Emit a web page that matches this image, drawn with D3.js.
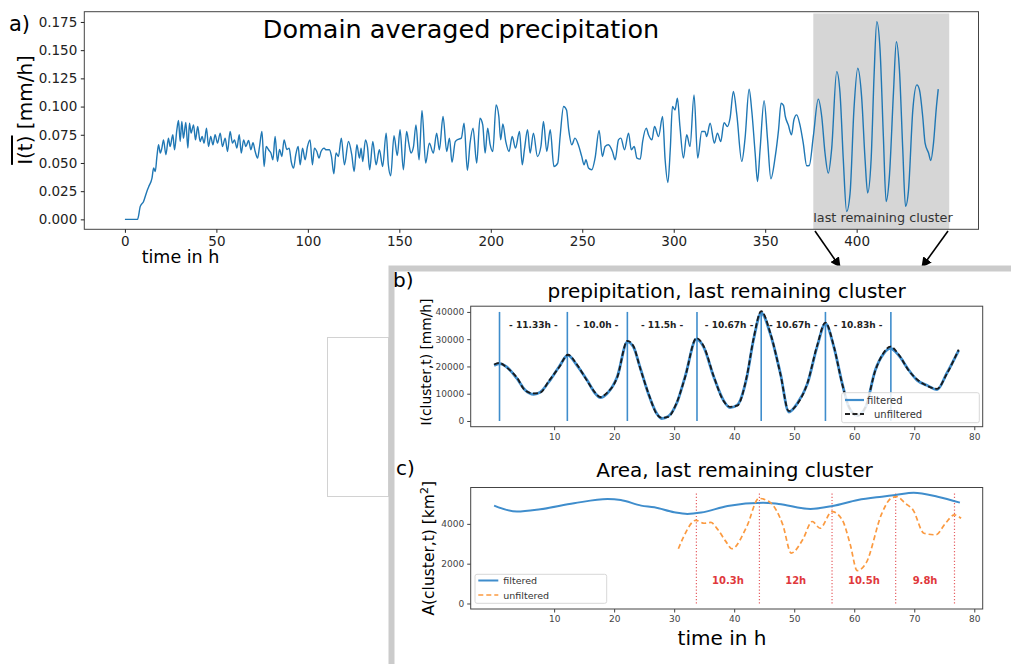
<!DOCTYPE html>
<html>
<head>
<meta charset="utf-8">
<script src="https://cdn.jsdelivr.net/npm/d3@7"></script>
<style>
body { margin: 0; background: #fff; }
svg { display: block; font-family: "DejaVu Sans", sans-serif; }
</style>
</head>
<body>
<script>
// panel a: domain averaged precipitation
const aTime = [0, 6.9, 8.4, 10.2, 12.0, 13.0, 14.8, 15.7, 16.6, 17.5, 18.4, 19.3, 20.2, 21.1, 22.4, 23.8, 24.7, 26.2, 27.1, 28.4,
  29.3, 30.2, 31.1, 32.0, 33.3, 34.4, 35.3, 36.2, 37.5, 38.6, 39.8, 41.1, 42.2, 43.3, 44.6, 45.7, 46.9, 48.1, 49.3, 50.6,
  52.1, 53.3, 54.8, 56.1, 57.5, 58.8, 59.9, 61.2, 62.5, 63.6, 64.9, 66.1, 67.6, 68.9, 70.0, 71.2, 72.5, 73.6, 74.9, 76.1,
  77.2, 78.5, 79.8, 80.9, 82.1, 83.4, 84.5, 85.8, 87.0, 88.5, 89.8, 90.9, 92.2, 93.4, 94.7, 95.8, 97.1, 98.5, 99.8, 101.2,
  102.5, 103.6, 104.9, 106.1, 107.2, 108.9, 109.8, 111.8, 112.9, 114.2, 115.4, 116.7, 118.3, 120.0, 122.2, 124.0, 125.3, 126.8, 128.2, 129.1,
  130.0, 131.5, 132.6, 133.8, 135.5, 137.3, 139.1, 140.9, 142.8, 144.0, 145.3, 147.1, 148.9, 150.4, 152.2, 154.0, 155.1, 156.4, 157.7, 159.1,
  160.8, 162.4, 164.4, 166.4, 168.6, 170.4, 171.9, 173.9, 175.9, 177.4, 178.8, 180.6, 182.5, 183.9, 185.4, 187.2, 188.7, 190.3, 192.3, 194.1,
  195.6, 196.9, 198.3, 199.6, 201.1, 202.9, 204.4, 205.4, 206.6, 208.2, 210.0, 211.7, 213.5, 215.7, 217.2, 218.4, 220.1, 221.5, 223.3, 225.5,
  227.4, 228.8, 230.6, 232.5, 234.5, 236.6, 237.9, 239.8, 241.4, 242.6, 244.3, 246.0, 247.9, 249.7, 251.0, 252.0, 253.4, 255.2, 257.0, 259.2,
  261.0, 262.5, 264.3, 266.5, 268.0, 269.8, 271.1, 273.1, 275.3, 276.8, 278.4, 279.9, 281.7, 283.0, 285.0, 286.2, 288.1, 289.5, 291.7, 293.9,
  295.3, 296.8, 298.1, 299.3, 300.7, 302.0, 303.4, 305.3, 307.1, 308.9, 311.1, 313.1, 315.3, 317.1, 318.0, 319.9, 322.2, 323.9, 325.7, 327.5,
  329.4, 330.8, 332.6, 334.5, 337.2, 339.0, 341.2, 342.7, 344.5, 345.8, 347.2, 349.4, 351.3, 353.1, 355.5, 357.3, 358.7, 360.0, 361.0, 362.6,
  364.4, 365.7, 367.2, 369.0, 370.8, 372.7, 374.1, 376.3, 379.0, 380.9, 382.7, 384.5, 386.3, 389.1, 390.9, 392.7, 394.5, 396.4, 398.5, 400.6,
  402.7, 404.6, 406.0, 407.9, 409.5, 411.0, 412.8, 414.6, 416.1, 417.9, 420.1, 421.7, 423.4, 425.2, 426.7, 428.3, 430.7, 432.9, 434.3, 436.1,
  437.4, 439.3, 440.5, 442.0, 443.5, 444.6];
const aPrecip = [0, 0, 0.0115, 0.0159, 0.0248, 0.029, 0.0366, 0.0455, 0.0425, 0.0558, 0.0661, 0.0588, 0.0632, 0.0705, 0.0573, 0.072, 0.0646, 0.075, 0.0617, 0.0794,
  0.0876, 0.069, 0.0867, 0.072, 0.0859, 0.0632, 0.0853, 0.0765, 0.0838, 0.0705, 0.0823, 0.069, 0.0735, 0.0676, 0.0809, 0.0646, 0.0735, 0.0661, 0.075, 0.0676,
  0.0765, 0.0646, 0.072, 0.0602, 0.0779, 0.0676, 0.0705, 0.0632, 0.075, 0.0588, 0.0705, 0.0646, 0.0699, 0.0617, 0.068, 0.0602, 0.0543, 0.0646, 0.0779, 0.0469,
  0.0646, 0.0617, 0.0588, 0.0528, 0.0735, 0.0513, 0.062, 0.0558, 0.0705, 0.062, 0.0632, 0.0513, 0.0455, 0.0573, 0.0646, 0.0484, 0.0632, 0.0528, 0.0646, 0.0705,
  0.0484, 0.0632, 0.0602, 0.0543, 0.0602, 0.0632, 0.0617, 0.0617, 0.0558, 0.0404, 0.0588, 0.0558, 0.072, 0.0484, 0.069, 0.0573, 0.0425, 0.0661, 0.0543, 0.0632,
  0.0513, 0.0705, 0.064, 0.044, 0.069, 0.0484, 0.0617, 0.0469, 0.0765, 0.0484, 0.0387, 0.0741, 0.0565, 0.0794, 0.044, 0.0779, 0.068, 0.0588, 0.064, 0.0838,
  0.0528, 0.0965, 0.0499, 0.0676, 0.0588, 0.0765, 0.0617, 0.0912, 0.0602, 0.072, 0.0505, 0.069, 0.0712, 0.072, 0.0853, 0.0434, 0.068, 0.0809, 0.0499, 0.0897,
  0.0838, 0.0588, 0.0809, 0.0667, 0.0602, 0.1015, 0.0912, 0.0705, 0.0846, 0.069, 0.0602, 0.0735, 0.0632, 0.0779, 0.0484, 0.062, 0.0794, 0.0588, 0.0765, 0.0558,
  0.0646, 0.0867, 0.0602, 0.0794, 0.0469, 0.0499, 0.0735, 0.1, 0.097, 0.0794, 0.0661, 0.072, 0.066, 0.0558, 0.0484, 0.0528, 0.0455, 0.044, 0.0543, 0.0788,
  0.0558, 0.0647, 0.0661, 0.0602, 0.0528, 0.0705, 0.072, 0.0617, 0.0765, 0.0617, 0.0646, 0.0543, 0.0534, 0.069, 0.0809, 0.075, 0.0705, 0.0823, 0.0735, 0.0912,
  0.0528, 0.0327, 0.0617, 0.1, 0.097, 0.1074, 0.0823, 0.0543, 0.075, 0.0646, 0.1104, 0.0543, 0.0779, 0.0779, 0.0735, 0.0853, 0.0676, 0.0765, 0.069, 0.0858,
  0.0823, 0.0897, 0.1133, 0.0926, 0.0514, 0.072, 0.1154, 0.0956, 0.0588, 0.0336, 0.0617, 0.1053, 0.0705, 0.036, 0.0558, 0.0794, 0.103, 0.101, 0.0912, 0.0838,
  0.075, 0.0883, 0.0926, 0.0838, 0.0676, 0.0475, 0.0478, 0.0735, 0.1066, 0.0912, 0.0588, 0.041, 0.0619, 0.131, 0.112, 0.0528, 0.007, 0.0232, 0.0971, 0.134,
  0.1088, 0.0528, 0.0234, 0.0528, 0.1266, 0.1753, 0.150, 0.0735, 0.0159, 0.0383, 0.1119, 0.1575, 0.132, 0.0619, 0.0115, 0.0252, 0.0971, 0.1192, 0.115, 0.0912,
  0.0676, 0.0588, 0.0522, 0.0676, 0.098, 0.1154];
const aTicksX = [0, 50, 100, 150, 200, 250, 300, 350, 400];
const aTicksY = [0, 0.025, 0.05, 0.075, 0.1, 0.125, 0.15, 0.175];
const clusterSpan = [376.3, 450.6];

// panel b: precipitation of the last cluster
const bTime = [0, 0.9, 2.1, 3.8, 5.2, 6.6, 7.7, 9.1, 10.8, 12.3, 13.8, 15.5, 16.9, 17.7, 18.8, 20.5, 22.2, 23.2, 24.3, 25.7,
  27.1, 27.9, 29.0, 30.4, 31.8, 33.7, 34.9, 36.6, 38.2, 39.3, 40.5, 42.1, 43.2, 44.5, 46.0, 47.7, 49.1, 50.5, 52.2, 53.8,
  55.2, 56.6, 58.0, 59.1, 60.5, 61.9, 63.5, 64.9, 66.0, 67.4, 69.1, 70.5, 72.1, 73.8, 75.4, 77.4];
const bFiltered = [20400, 21000, 19800, 15600, 11300, 9800, 10600, 14300, 19800, 24100, 20400, 14900, 10000, 8600, 10000, 16100, 29000, 27200, 19800, 10000,
  2700, 900, 1700, 6400, 16100, 30000, 27200, 16100, 7600, 4900, 5800, 16100, 29600, 39600, 32100, 17400, 3300, 6400, 13700, 27200,
  35700, 27200, 13700, 5100, 2100, 5100, 18600, 24700, 26600, 24100, 18600, 14900, 13100, 11500, 17400, 25900];
const bUnfiltered = [20700, 21300, 19600, 15900, 11100, 10100, 10400, 14600, 19600, 24300, 20700, 14700, 10200, 8800, 10300, 15900, 29400, 27500, 19600, 10200,
  2500, 1200, 1500, 6600, 15900, 30400, 27500, 16300, 7400, 5200, 5600, 16400, 29900, 40300, 32400, 17200, 3600, 6200, 13900, 27500,
  36100, 27400, 13500, 5300, 1900, 5300, 18400, 25000, 27300, 24400, 18400, 15200, 12900, 11800, 17200, 26200];
const bPeaks = [0.9, 12.2, 22.2, 33.8, 44.5, 55.2, 66.1];
const bPeriods = ["- 11.33h -", "- 10.0h -", "- 11.5h -", "- 10.67h -", "- 10.67h -", "- 10.83h -"];
const bTicksY = [0, 10000, 20000, 30000, 40000];
const clusterTicksX = [10, 20, 30, 40, 50, 60, 70, 80];

// panel c: area of the last cluster
const cTime = [0, 3.8, 7.7, 13.3, 18.9, 21.1, 24.5, 26.7, 30.0, 32.2, 34.5, 38.9, 44.8, 47.4, 52.7, 56.4, 60.6, 64.6, 66.9, 69.9, 73.9, 77.6];
const cFiltered = [4917, 4617, 4733, 5033, 5250, 5200, 4917, 4833, 4583, 4500, 4567, 4900, 5067, 5000, 4750, 4900, 5200, 5367, 5450, 5567, 5367, 5067];
const cuTime = [30.7, 31.6, 33.6, 35.0, 36.1, 37.3, 38.6, 39.6, 42.1, 44.1, 45.8, 48.1, 49.5, 51.4, 53.0, 54.3, 56.3, 58.0, 59.3, 60.5,
  62.0, 64.6, 66.1, 67.1, 68.5, 69.8, 71.6, 73.6, 75.2, 76.7, 77.8];
const cUnfiltered = [2750, 3370, 4180, 4030, 4070, 3700, 3120, 2750, 3870, 5280, 5120, 3950, 2530, 3200, 4120, 3780, 4620, 4200, 3000, 1650,
  2050, 4530, 5280, 5370, 5030, 4700, 3530, 3450, 4030, 4450, 4280];
const cPeaks = [33.7, 44.2, 56.3, 66.9, 76.7];
const cPeriods = ["10.3h", "12h", "10.5h", "9.8h"];
const cTicksY = [0, 2000, 4000];

const W = 1011, H = 664;
const blue = "#1f77b4", lblue = "#3f8dcc", orange = "#fb9a40", red = "#e0383c";

const svg = d3.select("body").append("svg")
    .attr("width", W)
    .attr("height", H);

svg.append("defs").append("marker")
    .attr("id", "head")
    .attr("viewBox", "0 0 10 10")
    .attr("refX", 9).attr("refY", 5)
    .attr("markerWidth", 6.5).attr("markerHeight", 6.5)
    .attr("markerUnits", "strokeWidth")
    .attr("orient", "auto")
    .append("path").attr("d", "M0,0L10,5L0,10z").attr("fill", "#000");

// style an axis group
function styleAxis(g, size, color) {
    g.select(".domain").remove();
    g.selectAll(".tick line").attr("stroke", color);
    g.selectAll(".tick text").attr("fill", color).style("font-size", size + "px").style("font-family", "DejaVu Sans");
}

function frame(x, y) {
    svg.append("rect")
        .attr("x", x.range()[0]).attr("y", y.range()[1])
        .attr("width", x.range()[1] - x.range()[0])
        .attr("height", y.range()[0] - y.range()[1])
        .attr("fill", "none").attr("stroke", "#444").attr("stroke-width", 1);
}

// ---------------- panel a ----------------
const ax = d3.scaleLinear().domain([-22.2, 466.6]).range([84.3, 978.5]);
const ay = d3.scaleLinear().domain([-0.0088, 0.1841]).range([229.3, 11.7]);

svg.append("rect")
    .attr("x", ax(clusterSpan[0])).attr("y", 13.5)
    .attr("width", ax(clusterSpan[1]) - ax(clusterSpan[0]))
    .attr("height", ay.range()[0] - 13.5)
    .attr("fill", "#d6d6d6");

svg.append("path")
    .datum(aTime.map((t, i) => [t, aPrecip[i]]))
    .attr("fill", "none").attr("stroke", blue).attr("stroke-width", 1.4)
    .attr("d", d3.line().x(d => ax(d[0])).y(d => ay(d[1])).curve(d3.curveMonotoneX));

frame(ax, ay);

svg.append("g").attr("transform", `translate(0,${ay.range()[0]})`)
    .call(d3.axisBottom(ax).tickValues(aTicksX).tickSize(3.5).tickPadding(3.5))
    .call(g => styleAxis(g, 13.5, "#222"));
svg.append("g").attr("transform", `translate(${ax.range()[0]},0)`)
    .call(d3.axisLeft(ay).tickValues(aTicksY).tickFormat(d3.format(".3f")).tickSize(3.5).tickPadding(3.5))
    .call(g => styleAxis(g, 13.5, "#222"));

svg.append("text").attr("x", 461).attr("y", 37.5).attr("text-anchor", "middle")
    .style("font-size", "25.5px").text("Domain averaged precipitation");
svg.append("text").attr("x", 9).attr("y", 31).style("font-size", "21px").text("a)");
svg.append("text").attr("x", 180.5).attr("y", 262.5).attr("text-anchor", "middle")
    .style("font-size", "17.5px").text("time in h");

const aLab = svg.append("text").attr("transform", "translate(32,110) rotate(-90)")
    .attr("text-anchor", "middle").style("font-size", "20px");
aLab.append("tspan").attr("text-decoration", "overline").style("text-decoration", "overline").text("I(t)");
aLab.append("tspan").text(" [mm/h]");

svg.append("text").attr("x", 813.3).attr("y", 221.7).attr("fill", "#333")
    .style("font-size", "12.8px").text("last remaining cluster");

// arrows towards the zoomed panels
svg.append("line").attr("x1", 815).attr("y1", 231).attr("x2", 840).attr("y2", 267)
    .attr("stroke", "#000").attr("stroke-width", 1.6).attr("marker-end", "url(#head)");
svg.append("line").attr("x1", 948).attr("y1", 231).attr("x2", 922).attr("y2", 267)
    .attr("stroke", "#000").attr("stroke-width", 1.6).attr("marker-end", "url(#head)");

// grey frame round panels b and c, and the empty box on the left
svg.append("rect").attr("x", 327.5).attr("y", 337.5).attr("width", 61).attr("height", 159)
    .attr("fill", "none").attr("stroke", "#d2d2d2").attr("stroke-width", 1);
svg.append("path").attr("d", `M391.5,${H}V268.5H${W}`)
    .attr("fill", "none").attr("stroke", "#cbcbcb").attr("stroke-width", 6);

// ---------------- panel b ----------------
const bx = d3.scaleLinear().domain([-3.9, 81.4]).range([470.7, 982.7]);
const by = d3.scaleLinear().domain([-2100, 42100]).range([426.7, 306.2]);

svg.append("g").selectAll("line").data(bPeaks).join("line")
    .attr("x1", d => bx(d)).attr("x2", d => bx(d))
    .attr("y1", by(0)).attr("y2", by(40000))
    .attr("stroke", lblue).attr("stroke-width", 1.6);

svg.append("path")
    .datum(bTime.map((t, i) => [t, bFiltered[i]]))
    .attr("fill", "none").attr("stroke", lblue).attr("stroke-width", 2.8)
    .attr("d", d3.line().x(d => bx(d[0])).y(d => by(d[1])).curve(d3.curveMonotoneX));
svg.append("path")
    .datum(bTime.map((t, i) => [t, bUnfiltered[i]]))
    .attr("fill", "none").attr("stroke", "#1a1a1a").attr("stroke-width", 1.8)
    .attr("stroke-dasharray", "5,2.5")
    .attr("d", d3.line().x(d => bx(d[0])).y(d => by(d[1])).curve(d3.curveMonotoneX));

svg.append("g").selectAll("text").data(bPeriods).join("text")
    .attr("x", (d, i) => bx((bPeaks[i] + bPeaks[i + 1]) / 2))
    .attr("y", 327.5).attr("text-anchor", "middle")
    .attr("fill", "#222").style("font-size", "9px").style("font-weight", "bold")
    .text(d => d);

// legend b
const lb = svg.append("g");
lb.append("rect").attr("x", 841.7).attr("y", 392.7).attr("width", 137.6).attr("height", 30).attr("rx", 2)
    .attr("fill", "#fff").attr("fill-opacity", 0.85).attr("stroke", "#d8d8d8");
lb.append("line").attr("x1", 845).attr("x2", 864).attr("y1", 400).attr("y2", 400)
    .attr("stroke", lblue).attr("stroke-width", 2.2);
lb.append("line").attr("x1", 845).attr("x2", 864).attr("y1", 414).attr("y2", 414)
    .attr("stroke", "#222").attr("stroke-width", 1.8).attr("stroke-dasharray", "5,2.5");
lb.append("text").attr("x", 867).attr("y", 403.5).attr("fill", "#333").style("font-size", "10px").text("filtered");
lb.append("text").attr("x", 874).attr("y", 417.5).attr("fill", "#333").style("font-size", "10px").text("unfiltered");

frame(bx, by);
svg.append("g").attr("transform", `translate(0,${by.range()[0]})`)
    .call(d3.axisBottom(bx).tickValues(clusterTicksX).tickSize(3.5).tickPadding(3))
    .call(g => styleAxis(g, 9, "#444"));
svg.append("g").attr("transform", `translate(${bx.range()[0]},0)`)
    .call(d3.axisLeft(by).tickValues(bTicksY).tickFormat(d3.format("d")).tickSize(3.5).tickPadding(3))
    .call(g => styleAxis(g, 9, "#444"));

svg.append("text").attr("x", 393).attr("y", 287).style("font-size", "20px").text("b)");
svg.append("text").attr("x", 726.6).attr("y", 298).attr("text-anchor", "middle")
    .style("font-size", "20px").text("prepipitation, last remaining cluster");
svg.append("text").attr("transform", "translate(431,362) rotate(-90)").attr("text-anchor", "middle")
    .style("font-size", "13.8px").text("I(cluster,t) [mm/h]");

// ---------------- panel c ----------------
const cx = d3.scaleLinear().domain([-3.9, 81.4]).range([470.7, 982.7]);
const cy = d3.scaleLinear().domain([-277, 5827]).range([609, 487.5]);

svg.append("g").selectAll("line").data(cPeaks).join("line")
    .attr("x1", d => cx(d)).attr("x2", d => cx(d))
    .attr("y1", cy(0)).attr("y2", cy(5530))
    .attr("stroke", red).attr("stroke-opacity", 0.8).attr("stroke-width", 1.2)
    .attr("stroke-dasharray", "1.2,2");

svg.append("path")
    .datum(cTime.map((t, i) => [t, cFiltered[i]]))
    .attr("fill", "none").attr("stroke", lblue).attr("stroke-width", 2)
    .attr("d", d3.line().x(d => cx(d[0])).y(d => cy(d[1])).curve(d3.curveMonotoneX));
svg.append("path")
    .datum(cuTime.map((t, i) => [t, cUnfiltered[i]]))
    .attr("fill", "none").attr("stroke", orange).attr("stroke-width", 1.7)
    .attr("stroke-dasharray", "5,3")
    .attr("d", d3.line().x(d => cx(d[0])).y(d => cy(d[1])).curve(d3.curveMonotoneX));

svg.append("g").selectAll("text").data(cPeriods).join("text")
    .attr("x", (d, i) => cx((cPeaks[i] + cPeaks[i + 1]) / 2))
    .attr("y", 583.5).attr("text-anchor", "middle")
    .attr("fill", red).style("font-size", "10px").style("font-weight", "bold")
    .text(d => d);

// legend c
const lc = svg.append("g");
lc.append("rect").attr("x", 475).attr("y", 574.3).attr("width", 131.7).attr("height", 29).attr("rx", 2)
    .attr("fill", "#fff").attr("fill-opacity", 0.85).attr("stroke", "#d8d8d8");
lc.append("line").attr("x1", 478.3).attr("x2", 498.3).attr("y1", 580.5).attr("y2", 580.5)
    .attr("stroke", lblue).attr("stroke-width", 2);
lc.append("line").attr("x1", 478.3).attr("x2", 498.3).attr("y1", 595).attr("y2", 595)
    .attr("stroke", orange).attr("stroke-width", 1.7).attr("stroke-dasharray", "5,3");
lc.append("text").attr("x", 503.3).attr("y", 584).attr("fill", "#333").style("font-size", "9.5px").text("filtered");
lc.append("text").attr("x", 503.3).attr("y", 598.5).attr("fill", "#333").style("font-size", "9.5px").text("unfiltered");

frame(cx, cy);
svg.append("g").attr("transform", `translate(0,${cy.range()[0]})`)
    .call(d3.axisBottom(cx).tickValues(clusterTicksX).tickSize(3.5).tickPadding(3))
    .call(g => styleAxis(g, 9, "#444"));
svg.append("g").attr("transform", `translate(${cx.range()[0]},0)`)
    .call(d3.axisLeft(cy).tickValues(cTicksY).tickFormat(d3.format("d")).tickSize(3.5).tickPadding(3))
    .call(g => styleAxis(g, 9, "#444"));

svg.append("text").attr("x", 396).attr("y", 475).style("font-size", "20px").text("c)");
svg.append("text").attr("x", 734.5).attr("y", 476.5).attr("text-anchor", "middle")
    .style("font-size", "20px").text("Area, last remaining cluster");
const cLab = svg.append("text").attr("transform", "translate(434,548.3) rotate(-90)")
    .attr("text-anchor", "middle").style("font-size", "15.5px");
cLab.append("tspan").text("A(cluster,t) [km");
cLab.append("tspan").attr("dy", -6).style("font-size", "11px").text("2");
cLab.append("tspan").attr("dy", 6).text("]");
svg.append("text").attr("x", 722).attr("y", 645).attr("text-anchor", "middle")
    .style("font-size", "20px").text("time in h");
</script>
</body>
</html>
